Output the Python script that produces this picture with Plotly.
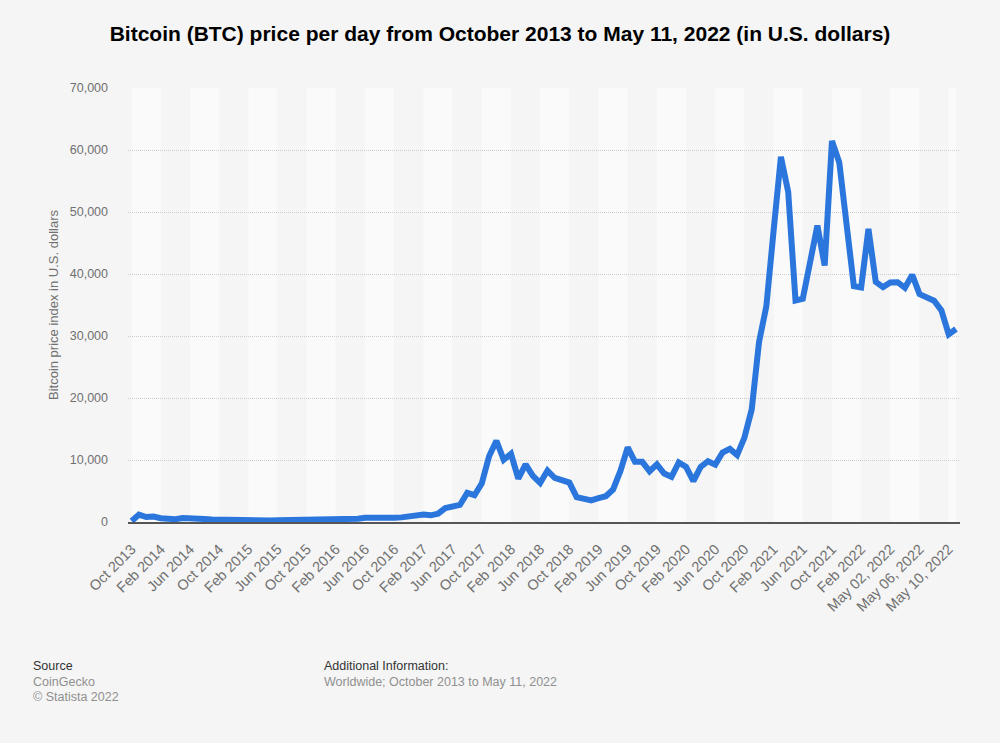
import plotly.graph_objects as go

TITLE = "Bitcoin (BTC) price per day from October 2013 to May 11, 2022 (in U.S. dollars)"
TEXT_FONT = "Liberation Sans, Arial, sans-serif"

# Monthly categories Oct 2013 - Apr 2022, then daily May 01 - May 11, 2022
month_names = ["Jan", "Feb", "Mar", "Apr", "May", "Jun", "Jul", "Aug", "Sep", "Oct", "Nov", "Dec"]
categories = []
for year in range(2013, 2023):
    for m, name in enumerate(month_names):
        if (year, m) < (2013, 9) or (year, m) > (2022, 3):
            continue
        categories.append(f"{name} {year}")
categories += [f"May {d:02d}, 2022" for d in range(1, 12)]

prices = [
    150, 1200, 800, 880, 600, 480, 450, 630, 640, 590,
    480, 390, 340, 380, 320, 220, 255, 245, 235, 230,
    265, 285, 230, 236, 315, 378, 430, 370, 438, 416,
    455, 530, 670, 625, 575, 610, 700, 745, 960, 970,
    1190, 1080, 1350, 2250, 2600, 2750, 4700, 4320, 6250, 10600,
    13100, 10020, 11000, 7000, 9300, 7440, 6300, 8300, 7100, 6600,
    6360, 4000, 3750, 3480, 3850, 4150, 5250, 8240, 12050, 9700,
    9700, 8190, 9300, 7810, 7280, 9600, 8900, 6580, 8890, 9800,
    9250, 11200, 11800, 10800, 13610, 18170, 29000, 34770, 47000, 58900,
    53260, 35730, 36000, 41360, 47800, 41360, 61460, 57980, 47800, 38040,
    37830, 47260, 38740, 37880, 38630, 38680, 37770, 39860, 36750, 36200,
    35680, 34130, 30270, 31130,
]

tick_step = 4
y_ticks = [0, 10000, 20000, 30000, 40000, 50000, 60000, 70000]

fig = go.Figure(go.Scatter(
    x=categories, y=prices, mode="lines", cliponaxis=False,
    line=dict(color="#2a76dd", width=6, shape="linear"),
))

# alternating background bands, one per labelled tick
bands = []
for k, start in enumerate(range(0, len(categories), tick_step)):
    end = min(start + tick_step, len(categories) - 1)
    bands.append(dict(
        type="rect", xref="x", yref="paper", x0=start, x1=end, y0=0, y1=1,
        fillcolor="#fafafa" if k % 2 == 0 else "#f5f5f5",
        line_width=0, layer="below",
    ))

notes = [
    (31, 667, "Source", "#333333"),
    (31, 683, "CoinGecko", "#909090"),
    (31, 698, "© Statista 2022", "#909090"),
    (322, 667, "Additional Information:", "#333333"),
    (322, 683, "Worldwide; October 2013 to May 11, 2022", "#909090"),
]
annotations = [
    dict(xref="paper", yref="paper", x=(x - 128) / 832, y=(522.5 - y) / 435,
         text=text, showarrow=False, xanchor="left", yanchor="middle",
         font=dict(family=TEXT_FONT, size=12.5, color=color))
    for x, y, text, color in notes
]

fig.update_layout(
    width=1000, height=743, autosize=False,
    margin=dict(l=128, r=40, t=87.5, b=220.5),
    paper_bgcolor="#f5f5f5", plot_bgcolor="#f5f5f5",
    showlegend=False,
    title=dict(text=f"<b>{TITLE}</b>", x=0.5, xanchor="center", y=1 - 34 / 743, yanchor="middle",
               font=dict(family=TEXT_FONT, size=21, color="#000000")),
    shapes=bands,
    annotations=annotations,
    xaxis=dict(
        type="category", range=[-0.5, 113.55], showgrid=False,
        tickmode="array",
        tickvals=categories[::tick_step], ticktext=categories[::tick_step],
        tickangle=-45, ticks="", ticklabelstandoff=11,
        tickfont=dict(family=TEXT_FONT, size=14.5, color="#707070"),
        showline=True, linecolor="#555555", linewidth=2,
    ),
    yaxis=dict(
        range=[0, 70000], tickvals=y_ticks, tickformat=",",
        showgrid=True, gridcolor="#cdcdcd", griddash="1px,1px", gridwidth=1,
        zeroline=False, ticks="", ticklabelstandoff=19,
        tickfont=dict(family=TEXT_FONT, size=12.5, color="#707070"),
        title=dict(text="Bitcoin price index in U.S. dollars", standoff=8,
                   font=dict(family=TEXT_FONT, size=13, color="#707070")),
    ),
)

fig.write_html("out.html", config={"displayModeBar": False},
               post_script="document.body.style.margin='0';document.body.style.background='#f5f5f5';")
